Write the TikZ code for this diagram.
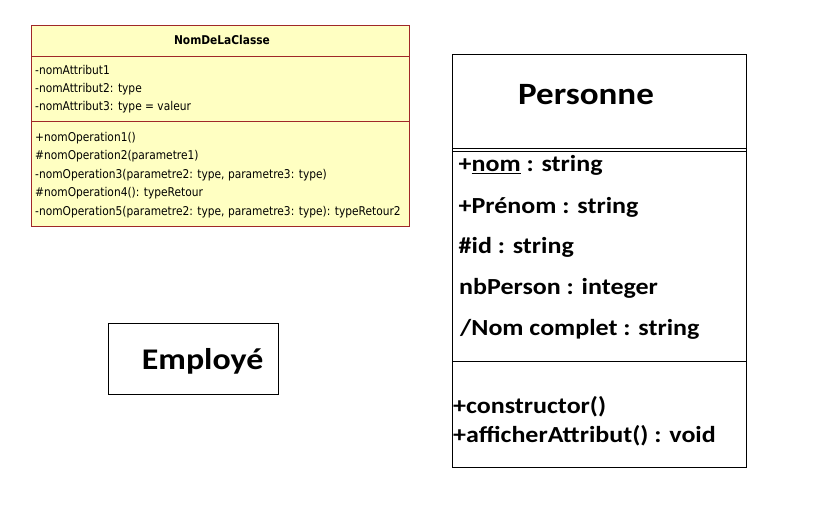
\documentclass[tikz,border=0pt]{standalone}
\usepackage{fontspec}
\setmainfont{Carlito}[FakeStretch=1.13]
\newfontfamily\tah{DejaVu Sans}[FakeStretch=0.88]
\definecolor{umlfill}{RGB}{255,255,194}
\definecolor{umlline}{RGB}{160,40,40}
\tikzset{
  small/.style={anchor=base west, inner sep=0pt, font=\tah\fontsize{12.1}{14}\selectfont},
  smalltitle/.style={anchor=base, inner sep=0pt, font=\tah\bfseries\fontsize{12.1}{14}\selectfont},
  big/.style={anchor=base west, inner sep=0pt, font=\bfseries\fontsize{23}{27}\selectfont},
  huge/.style={anchor=base, inner sep=0pt, font=\bfseries\fontsize{31}{36}\selectfont},
  box/.style={draw=black, line width=0.9pt}
}
\begin{document}
\begin{tikzpicture}[x=1pt,y=-1pt]
\useasboundingbox (0,0) rectangle (813,513);
% NomDeLaClasse
\draw[fill=umlfill, draw=umlline, line width=0.8pt] (31,25) rectangle (409,226);
\draw[umlline, line width=0.8pt] (31,56) -- (409,56);
\draw[umlline, line width=0.8pt] (31,121) -- (409,121);
\node[smalltitle] (t) at (222,45) {NomDeLaClasse};
\node[small] (a1) at (35,75) {-nomAttribut1};
\node[small] (a2) at (35,92.7) {-nomAttribut2: type};
\node[small] (a3) at (35,110.5) {-nomAttribut3: type = valeur};
\node[small] (o1) at (35,141.7) {+nomOperation1()};
\node[small] (o2) at (35,160) {\#nomOperation2(parametre1)};
\node[small] (o3) at (35,178.3) {-nomOperation3(parametre2: type, parametre3: type)};
\node[small] (o4) at (35,196.7) {\#nomOperation4(): typeRetour};
\node[small] (o5) at (35,215) {-nomOperation5(parametre2: type, parametre3: type): typeRetour2};
% Personne
\draw[box] (452,54) rectangle (746,467);
\draw[box] (452,148.5) -- (746,148.5);
\draw[box] (452,151.5) -- (746,151.5);
\draw[box] (452,361) -- (746,361);
\node[huge] (p) at (586,104.3) {Personne};
\node[big] (p1) at (458.5,171.7) {+\underline{nom} : string};
\node[big] (p2) at (458.5,213) {+Prénom : string};
\node[big] (p3) at (458.5,253.5) {\#id : string};
\node[big] (p4) at (459,294.5) {nbPerson : integer};
\node[big] (p5) at (460,335.5) {/Nom complet : string};
\node[big] (m1) at (453,413.5) {+constructor()};
\node[big] (m2) at (453,442) {+afficherAttribut() : void};
% Employe
\draw[box] (108.5,323.5) rectangle (278,394);
\node[huge, anchor=base west, font=\bfseries\fontsize{30}{35}\selectfont] (e) at (141.7,369.5) {Employé};
\end{tikzpicture}
\end{document}
